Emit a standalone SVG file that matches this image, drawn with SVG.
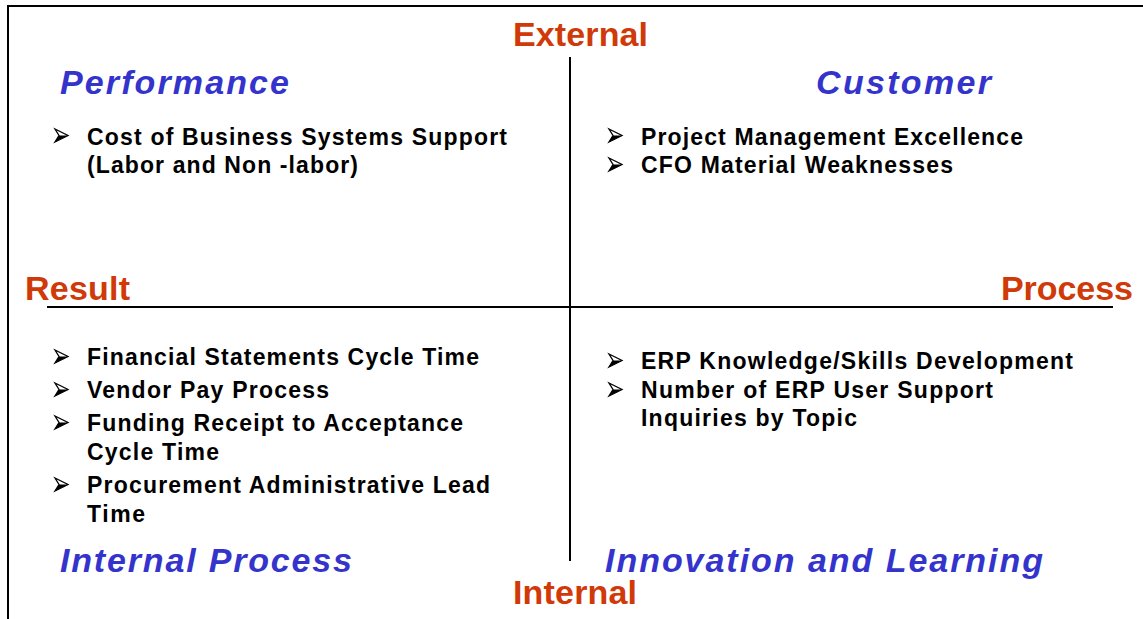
<svg xmlns="http://www.w3.org/2000/svg" width="1143" height="619" viewBox="0 0 1143 619">
<style>
.axis{font-family:"Liberation Sans",Arial,sans-serif;font-weight:bold;font-size:34px;fill:#D03A08}
.head{font-family:"Liberation Sans",Arial,sans-serif;font-weight:bold;font-style:italic;font-size:34px;fill:#3434CC}
.item{font-family:"Liberation Sans",Arial,sans-serif;font-weight:bold;font-size:23px;fill:#000}
.ln{stroke:#000;stroke-width:2;fill:none}
</style>
<defs>
<g id="bul">
<path d="M0,0 L13,6.5 L0,13 L4,6.5 Z" fill="#fff" stroke="#000" stroke-width="1.3" stroke-linejoin="miter"/>
<path d="M4,6.5 L13,6.5 L0,13 Z" fill="#000"/>
</g>
</defs>
<rect x="0" y="0" width="1143" height="619" fill="#fff"/>
<g id="frame"><path class="ln" d="M8,619 L8,6 L1143,6"/></g>
<g id="connectors">
<line class="ln" x1="570" y1="57" x2="570" y2="561"/>
<line class="ln" x1="47" y1="307" x2="1113" y2="307"/>
</g>
<g id="axes">
<text class="axis" x="513" y="46" textLength="135">External</text>
<text class="axis" x="513" y="604" textLength="124">Internal</text>
<text class="axis" x="25" y="300" textLength="105">Result</text>
<text class="axis" x="1001" y="300" textLength="132">Process</text>
</g>
<g id="performance">
<text class="head" x="60" y="94" textLength="229">Performance</text>
<use href="#bul" x="55" y="129"/>
<text class="item" x="87" y="145" textLength="420">Cost of Business Systems Support</text>
<text class="item" x="87" y="173" textLength="271">(Labor and Non -labor)</text>
</g>
<g id="customer">
<text class="head" x="816" y="94" textLength="175">Customer</text>
<use href="#bul" x="609" y="129"/>
<text class="item" x="641" y="145" textLength="382">Project Management Excellence</text>
<use href="#bul" x="609" y="158"/>
<text class="item" x="641" y="173" textLength="312">CFO Material Weaknesses</text>
</g>
<g id="internal-process">
<use href="#bul" x="55" y="350"/>
<text class="item" x="87" y="365" textLength="392">Financial Statements Cycle Time</text>
<use href="#bul" x="55" y="383"/>
<text class="item" x="87" y="398" textLength="242">Vendor Pay Process</text>
<use href="#bul" x="55" y="416"/>
<text class="item" x="87" y="431" textLength="376">Funding Receipt to Acceptance</text>
<text class="item" x="87" y="460" textLength="132">Cycle Time</text>
<use href="#bul" x="55" y="478"/>
<text class="item" x="87" y="493" textLength="403">Procurement Administrative Lead</text>
<text class="item" x="87" y="522" textLength="58">Time</text>
<text class="head" x="60" y="572" textLength="292">Internal Process</text>
</g>
<g id="innovation">
<use href="#bul" x="609" y="354"/>
<text class="item" x="641" y="369" textLength="432">ERP Knowledge/Skills Development</text>
<use href="#bul" x="609" y="383"/>
<text class="item" x="641" y="398" textLength="352">Number of ERP User Support</text>
<text class="item" x="641" y="426" textLength="216">Inquiries by Topic</text>
<text class="head" x="605" y="572" textLength="438">Innovation and Learning</text>
</g>
</svg>
